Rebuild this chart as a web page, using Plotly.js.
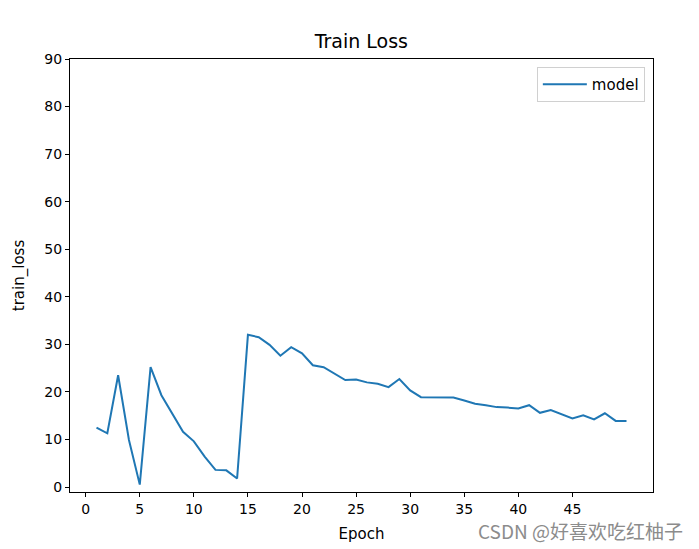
<!DOCTYPE html>
<html>
<head>
<meta charset="utf-8">
<script src="https://cdn.plot.ly/plotly-3.0.1.min.js"></script>
<style>html,body{margin:0;padding:0;background:#fff}#chart{width:699px;height:549px}</style>
</head>
<body>
<div id="chart"></div>
<script>
const epochs = [1,2,3,4,5,6,7,8,9,10,11,12,13,14,15,16,17,18,19,20,21,22,23,24,25,26,27,28,29,30,31,32,33,34,35,36,37,38,39,40,41,42,43,44,45,46,47,48,49,50];
const trainLoss = [12.5,11.3,23.5,9.9,0.5,25.2,19.3,15.3,11.6,9.6,6.4,3.6,3.5,1.8,32.0,31.5,29.9,27.6,29.4,28.1,25.6,25.2,23.9,22.5,22.6,22.0,21.7,21.0,22.7,20.3,18.9,18.9,18.9,18.8,18.2,17.5,17.2,16.8,16.7,16.5,17.2,15.6,16.2,15.3,14.4,15.1,14.2,15.5,13.9,13.9];
const xTicks = [0,5,10,15,20,25,30,35,40,45];
const yTicks = [0,10,20,30,40,50,60,70,80,90];
const seriesName = 'model';

const font = 'DejaVu Sans, sans-serif';
const axisCommon = {
  showgrid: false, zeroline: false, showline: true, linecolor: '#000', linewidth: 1,
  mirror: true, ticks: 'outside', ticklen: 4, tickcolor: '#000', tickwidth: 1,
  tickfont: {family: font, size: 14, color: '#000'}
};
Plotly.newPlot('chart', [{
  x: epochs, y: trainLoss, type: 'scatter', mode: 'lines', name: seriesName,
  line: {color: '#1f77b4', width: 2}
}], {
  width: 699, height: 549,
  margin: {l: 70, r: 46, t: 59, b: 57},
  paper_bgcolor: '#fff', plot_bgcolor: '#fff',
  title: {text: 'Train Loss', x: 0.517, xanchor: 'center', y: 0.925, yanchor: 'middle', font: {family: font, size: 19, color: '#000'}},
  xaxis: Object.assign({}, axisCommon, {
    range: [-1.45, 52.45], tickmode: 'array', tickvals: xTicks,
    title: {text: 'Epoch', font: {family: font, size: 15, color: '#000'}, standoff: 12}
  }),
  yaxis: Object.assign({}, axisCommon, {
    range: [-1.05, 90], tickmode: 'array', tickvals: yTicks,
    title: {text: 'train_loss', font: {family: font, size: 15, color: '#000'}, standoff: 16}
  }),
  showlegend: true,
  legend: {x: 0.986, y: 0.9815, xanchor: 'right', yanchor: 'top', bordercolor: '#d0d0d0', borderwidth: 1,
    itemwidth: 44, bgcolor: 'rgba(255,255,255,0.8)', font: {family: font, size: 15, color: '#000'}},
  annotations: [{
    text: 'CSDN @好喜欢吃红柚子', xref: 'paper', yref: 'paper', x: 1.055, y: -0.088,
    xanchor: 'right', yanchor: 'middle', showarrow: false,
    font: {family: 'Noto Sans CJK SC, sans-serif', size: 19, color: '#8c8c8c'}
  }]
}, {displayModeBar: false});
</script>
</body>
</html>
